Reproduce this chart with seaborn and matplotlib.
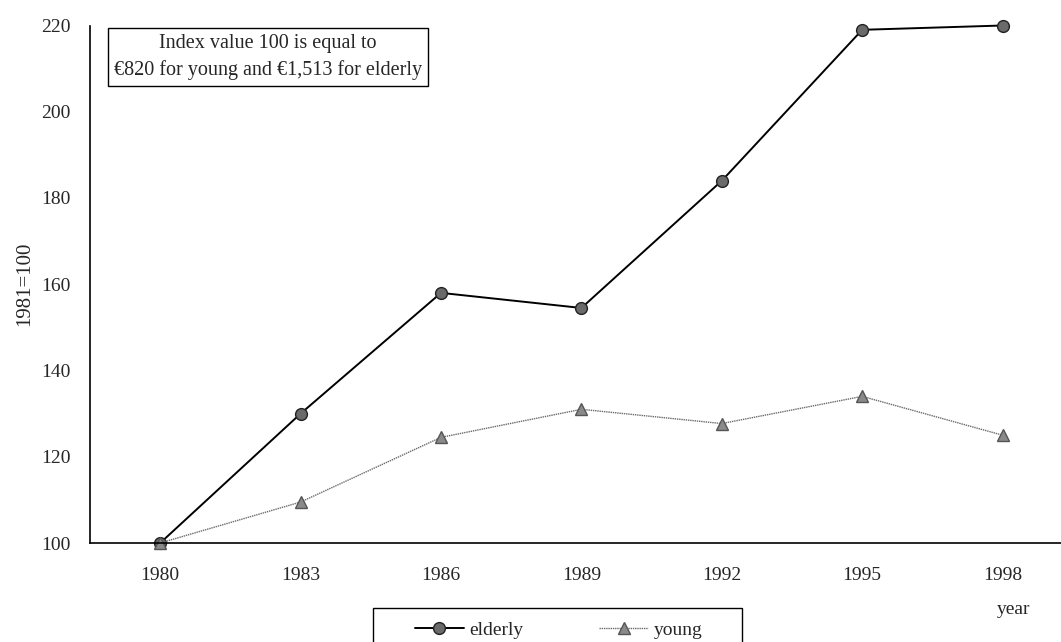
import matplotlib
matplotlib.use("Agg")
import matplotlib.pyplot as plt
import matplotlib.patches as mpatches
import seaborn as sns
import pandas as pd

years = ["1980", "1983", "1986", "1989", "1992", "1995", "1998"]
elderly = [100, 130, 158, 154.5, 184, 219, 220]
young = [100, 109.5, 124.5, 131, 127.7, 134, 125]
yticks = [100, 120, 140, 160, 180, 200, 220]

sns.set_style("white")
plt.rcParams["font.family"] = ["Liberation Serif", "DejaVu Serif"]

W, H = 1061, 642
fig = plt.figure(figsize=(W / 100, H / 100), dpi=100)
step = 140.4
left = 90
ax = fig.add_axes([left / W, 1 - 543 / H, 7 * step / W, (543 - 25.5) / H])

df = pd.DataFrame({"year": years * 2,
                   "value": elderly + young,
                   "series": ["elderly"] * 7 + ["young"] * 7})
pos = {y: i for i, y in enumerate(years)}
df["x"] = df["year"].map(pos)

sns.lineplot(data=df[df.series == "elderly"], x="x", y="value", ax=ax,
             color="black", lw=1.4, marker="o", markersize=8.5,
             markerfacecolor="#6a6a6a", markeredgecolor="#222222",
             markeredgewidth=1, label="elderly", sort=False, clip_on=False)
sns.lineplot(data=df[df.series == "young"], x="x", y="value", ax=ax,
             color="#6a6a6a", lw=1.0, ls=(0, (1, 0.6)), marker="^", markersize=8.5,
             markerfacecolor="#8a8a8a", markeredgecolor="#555555",
             markeredgewidth=1, label="young", sort=False, clip_on=False)

ax.set_xlim(-0.5, 6.5)
ax.set_ylim(100, 220)
ax.set_yticks(yticks)
ax.set_xticks(range(len(years)))
ax.set_xticklabels(years)
ax.set_xticks([i + 0.5 for i in range(len(years) - 1)], minor=True)
ax.tick_params(axis="x", which="major", length=0, labelsize=14, pad=17)
ax.tick_params(axis="x", which="minor", direction="in", length=6, width=1, color="black")
ax.tick_params(axis="y", direction="in", length=5, width=1, color="black", labelsize=14, pad=14)
for s in ["top", "right"]:
    ax.spines[s].set_visible(False)
for s in ["left", "bottom"]:
    ax.spines[s].set_color("black")
    ax.spines[s].set_linewidth(1.2)
ax.set_xlabel("")
ax.set_ylabel("")

fig.text(25 / W, 1 - 284 / H, "1981=100", rotation=90, ha="center", va="center", fontsize=15)
fig.text(1014 / W, 1 - 610 / H, "year", ha="center", va="center", fontsize=14)

fig.text(268 / W, 1 - 57 / H, "Index value 100 is equal to\n\u20ac820 for young and \u20ac1,513 for elderly",
         ha="center", va="center", fontsize=14.5, linespacing=1.45,
         bbox=dict(boxstyle="square,pad=0.3", facecolor="white", edgecolor="black", lw=1))

if ax.legend_:
    ax.legend_.remove()
h, l = ax.get_legend_handles_labels()
leg = fig.legend(h, l, loc="upper left", bbox_to_anchor=(415 / W, 1 - 621 / H), ncol=2,
                 frameon=False, fontsize=14, borderpad=0, borderaxespad=0,
                 columnspacing=3.9, handlelength=2.5, handletextpad=0.3, markerscale=1.0)
fig.patches.append(mpatches.Rectangle((373 / W, -0.01), (742 - 373) / W, 1 - 608 / H + 0.01,
                                      transform=fig.transFigure, fill=False,
                                      edgecolor="black", lw=1, clip_on=False))

fig.savefig("out.png", dpi=100)
